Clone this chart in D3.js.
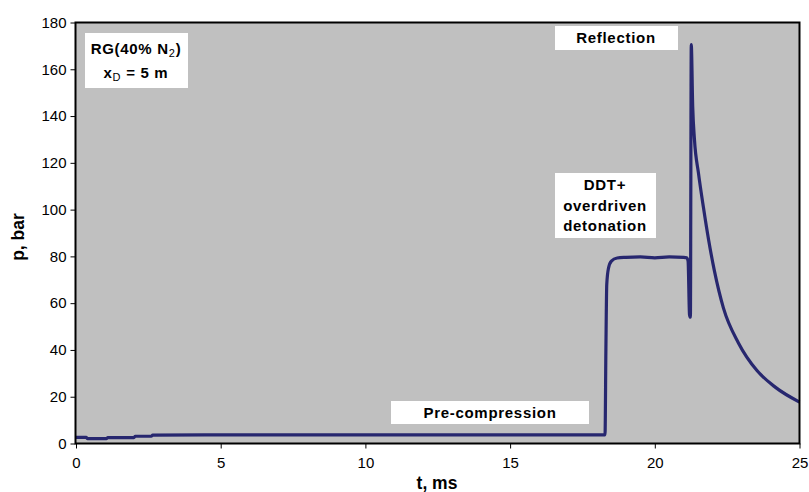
<html>
<head>
<script src="https://cdn.jsdelivr.net/npm/d3@7"></script>
<style>
  body { margin: 0; background: #fff; }
  svg text { font-family: "Liberation Sans", Arial, sans-serif; fill: #000; }
  .tick text { font-size: 15px; }
  .lbl { font-size: 15px; font-weight: bold; letter-spacing: 0.7px; }
  .axtitle { font-size: 17.5px; font-weight: bold; }
</style>
</head>
<body>
<svg width="809" height="492"></svg>
<script>
// time in ms, pressure in bar
var tValues = [0, 0.35, 0.4, 1.05, 1.1, 2.0, 2.05, 2.6, 2.65, 4.45, 4.5, 10,
  18.28, 18.31, 18.34, 18.4, 18.5, 18.7, 19.0, 19.5, 20, 20.5, 21.0, 21.1,
  21.15, 21.2, 21.23, 21.26, 21.31, 21.37, 21.51, 21.68, 21.86, 22.06, 22.37,
  22.89, 23.53, 24.16, 25];
var pValues = [2.6, 2.6, 2.1, 2.1, 2.5, 2.5, 3.1, 3.1, 3.6, 3.7, 3.7, 3.7,
  3.7, 40, 68, 75, 78, 79.3, 79.6, 79.8, 79.4, 79.8, 79.6, 79.4,
  78, 55, 54, 170.5, 144, 130, 115.5, 101, 87, 73.8, 58,
  43, 31.2, 24.1, 17.7];
var xTicks = [0, 5, 10, 15, 20, 25];
var yTicks = [0, 20, 40, 60, 80, 100, 120, 140, 160, 180];

var data = tValues.map(function (t, i) { return { t: t, p: pValues[i] }; });

var plotL = 75.5, plotR = 799.5, plotT = 22.5, plotB = 443.5;
var svg = d3.select("svg");

var x = d3.scaleLinear().domain([0, 25]).range([plotL + 0.5, plotR]);
var y = d3.scaleLinear().domain([0, 180]).range([plotB, plotT]);

// plot area
svg.append("rect")
  .attr("x", plotL).attr("y", plotT)
  .attr("width", plotR - plotL).attr("height", plotB - plotT)
  .attr("fill", "#c0c0c0");

// axes
svg.append("g")
  .attr("transform", "translate(" + plotL + ",0)")
  .call(d3.axisLeft(y).tickValues(yTicks).tickSize(5).tickPadding(4))
  .call(function (g) { g.select(".domain").remove(); });

svg.append("g")
  .attr("transform", "translate(0," + plotB + ")")
  .call(d3.axisBottom(x).tickValues(xTicks).tickSize(5).tickPadding(9))
  .call(function (g) { g.select(".domain").remove(); });

// the trace
var line = d3.line()
  .curve(d3.curveMonotoneX)
  .x(function (d) { return x(d.t); })
  .y(function (d) { return y(d.p); });

svg.append("path")
  .datum(data)
  .attr("d", line)
  .attr("fill", "none")
  .attr("stroke", "#27276f")
  .attr("stroke-width", 3.2)
  .attr("stroke-linejoin", "round");

// frame
svg.append("rect")
  .attr("x", plotL).attr("y", plotT)
  .attr("width", plotR - plotL).attr("height", plotB - plotT)
  .attr("fill", "none")
  .attr("stroke", "#000")
  .attr("stroke-width", 2);

// label boxes
function box(x0, y0, w, h) {
  svg.append("rect").attr("x", x0).attr("y", y0)
    .attr("width", w).attr("height", h).attr("fill", "#fff");
}

box(85, 33, 103, 55);
var t1 = svg.append("text").attr("class", "lbl").attr("x", 136).attr("y", 54)
  .attr("text-anchor", "middle");
t1.append("tspan").text("RG(40% N");
t1.append("tspan").attr("font-size", "11px").attr("font-weight", "normal")
  .attr("dy", 3).text("2");
t1.append("tspan").attr("dy", -3).text(")");
var t2 = svg.append("text").attr("class", "lbl").attr("x", 136).attr("y", 78)
  .attr("text-anchor", "middle");
t2.append("tspan").text("x");
t2.append("tspan").attr("font-size", "11px").attr("font-weight", "normal")
  .attr("dy", 3).text("D");
t2.append("tspan").attr("dy", -3).text(" = 5 m");

box(555, 26, 123, 24);
svg.append("text").attr("class", "lbl").attr("x", 616).attr("y", 43)
  .attr("text-anchor", "middle").text("Reflection");

box(555, 173, 101, 65);
["DDT+", "overdriven", "detonation"].forEach(function (s, i) {
  svg.append("text").attr("class", "lbl").attr("x", 605).attr("y", 190 + i * 20.5)
    .attr("text-anchor", "middle").text(s);
});

box(391, 401, 198, 23);
svg.append("text").attr("class", "lbl").attr("x", 490).attr("y", 418)
  .attr("text-anchor", "middle").text("Pre-compression");

// axis titles
svg.append("text").attr("class", "axtitle")
  .attr("transform", "translate(24,237) rotate(-90)")
  .attr("text-anchor", "middle").text("p, bar");
svg.append("text").attr("class", "axtitle")
  .attr("x", 437).attr("y", 489)
  .attr("text-anchor", "middle").text("t, ms");
</script>
</body>
</html>
